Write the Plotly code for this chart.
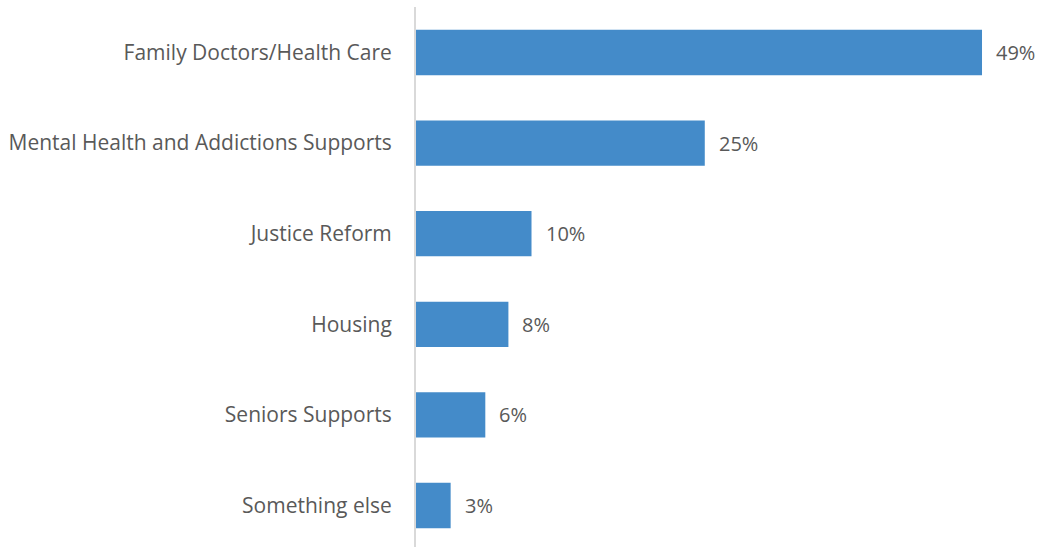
import plotly.graph_objects as go

# Survey categories, listed bottom to top
categories = [
    "Something else",
    "Seniors Supports",
    "Housing",
    "Justice Reform",
    "Mental Health and Addictions Supports",
    "Family Doctors/Health Care",
]
percentages = [3, 6, 8, 10, 25, 49]
value_labels = [f"{v}%" for v in percentages]

BAR_COLOR = "#448BC9"
TEXT_COLOR = "#595959"
FONT = "Open Sans"
FONT_SIZE = 21

fig = go.Figure(
    go.Bar(
        x=percentages,
        y=categories,
        orientation="h",
        width=0.5,
        marker=dict(color=BAR_COLOR, line=dict(width=0)),
        hoverinfo="skip",
    )
)

for cat, val, lab in zip(categories, percentages, value_labels):
    fig.add_annotation(
        x=val, y=cat, text=lab, showarrow=False,
        xanchor="left", yanchor="middle", xshift=12,
        font=dict(family=FONT, size=FONT_SIZE - 1, color=TEXT_COLOR),
    )

fig.update_layout(
    width=1042, height=547,
    margin=dict(l=416, r=2, t=7, b=0),
    paper_bgcolor="white", plot_bgcolor="white",
    showlegend=False,
    font=dict(family=FONT, size=FONT_SIZE, color=TEXT_COLOR),
    xaxis=dict(range=[0, 54.02], visible=False, showgrid=False, zeroline=False),
    yaxis=dict(
        range=[-0.458, 5.502],
        showgrid=False, zeroline=False,
        showline=True, linecolor="#D9D9D9", linewidth=2,
        ticks="", ticklabelstandoff=18,
        tickfont=dict(family=FONT, size=FONT_SIZE, color=TEXT_COLOR),
    ),
)

fig.write_html("out.html")
